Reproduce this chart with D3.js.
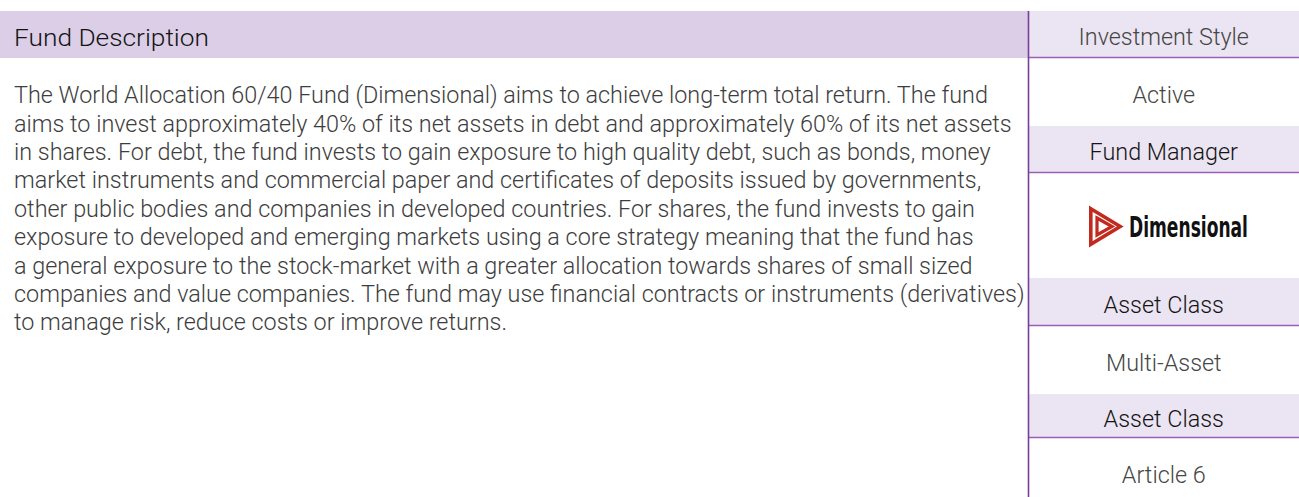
<!DOCTYPE html>
<html><head><meta charset="utf-8">
<script src="https://cdn.jsdelivr.net/npm/d3@7"></script>
<style>html,body{margin:0;padding:0;background:#fff;}svg{display:block;}</style>
</head><body>
<svg id="c" width="1299" height="497"></svg>
<script>
// ---- content ----
const title = "Fund Description";
const bodyLines = [
  "The World Allocation 60/40 Fund (Dimensional) aims to achieve long-term total return. The fund",
  "aims to invest approximately 40% of its net assets in debt and approximately 60% of its net assets",
  "in shares. For debt, the fund invests to gain exposure to high quality debt, such as bonds, money",
  "market instruments and commercial paper and certificates of deposits issued by governments,",
  "other public bodies and companies in developed countries. For shares, the fund invests to gain",
  "exposure to developed and emerging markets using a core strategy meaning that the fund has",
  "a general exposure to the stock-market with a greater allocation towards shares of small sized",
  "companies and value companies. The fund may use financial contracts or instruments (derivatives)",
  "to manage risk, reduce costs or improve returns."
];
const panelKinds  = ["header", "value", "header", "logo", "header", "value", "header", "value"];
const panelTexts  = ["Investment Style", "Active", "Fund Manager", "Dimensional", "Asset Class", "Multi-Asset", "Asset Class", "Article 6"];
const panelBounds = [11, 58, 126, 173, 278, 326, 394, 438, 506];

// ---- layout ----
const W = 1299, H = 497;
const divX = 1028.5;
const svg = d3.select("#c");
const FONT = "Roboto, Inter, 'Noto Sans', sans-serif";
const FS = 23.5;

function squeezeFactor(sel, target) {
  return target / sel.node().getComputedTextLength();
}

// left header band
svg.append("rect").attr("x", 0).attr("y", 11).attr("width", divX).attr("height", 47).attr("fill", "#dbcee6");
const tg = svg.append("g");
const tt = tg.append("text").attr("x", 0).attr("y", 0).attr("font-family", FONT)
  .attr("font-size", FS).attr("font-weight", 300).attr("fill", "#141414").text(title);
tg.attr("transform", `translate(14,45.5) scale(${squeezeFactor(tt, 195)},1)`);

// body text
const lineY = d3.scaleLinear().domain([0, bodyLines.length - 1]).range([103.3, 330.5]);
const g = svg.append("g");
const lines = g.selectAll("text").data(bodyLines).join("text")
  .attr("x", 0).attr("y", (d, i) => lineY(i))
  .attr("font-family", FONT).attr("font-size", FS).attr("font-weight", 300)
  .attr("fill", "#3d3d3d").text(d => d);
const kBody = squeezeFactor(d3.select(lines.nodes()[0]), 974);
g.attr("transform", `translate(14,0) scale(${kBody},1)`);

// right panel
const cx = (divX + W) / 2;
panelTexts.forEach((t, i) => {
  const y0 = panelBounds[i], y1 = Math.min(panelBounds[i + 1], H + 20), kind = panelKinds[i];
  const base = (y0 + y1) / 2 + 10.8;
  if (kind === "header") {
    svg.append("rect").attr("x", divX).attr("y", y0).attr("width", W - divX).attr("height", y1 - y0).attr("fill", "#ebe4f2");
    svg.append("line").attr("x1", divX).attr("x2", W).attr("y1", y1 - 0.5).attr("y2", y1 - 0.5)
      .attr("stroke", "#9a5fb5").attr("stroke-width", 1.6);
  }
  if (kind === "header" || kind === "value") {
    const gg = svg.append("g").attr("transform", `translate(${cx},${base}) scale(${kBody},1)`);
    gg.append("text").attr("x", 0).attr("y", 0).attr("text-anchor", "middle")
      .attr("font-family", FONT).attr("font-size", FS).attr("font-weight", 300)
      .attr("fill", (kind === "header" && i > 0) ? "#141414" : "#464646").text(t);
  } else if (kind === "logo") {
    const lg = svg.append("g");
    const red = "#c22a1f";
    const ix = 1089, iy = 207, iw = 33, ih = 39;
    lg.append("path").attr("d", `M${ix+1.8},${iy+1.8} L${ix+iw-1.8},${iy+ih/2} L${ix+1.8},${iy+ih-1.8} Z`)
      .attr("fill", "none").attr("stroke", red).attr("stroke-width", 3.6);
    lg.append("path").attr("d", `M${ix+8},${iy+11} L${ix+iw-10},${iy+ih/2} L${ix+8},${iy+ih-11} Z`)
      .attr("fill", "none").attr("stroke", red).attr("stroke-width", 3.2);
    const lt = lg.append("text").attr("x", 0).attr("y", 0)
      .attr("font-family", "'Liberation Sans Narrow', 'DejaVu Sans Condensed', 'DejaVu Sans', sans-serif")
      .attr("font-weight", "bold").attr("font-size", 28.5).attr("fill", "#111").text(t);
    const k = squeezeFactor(lt, 119);
    lt.attr("transform", `translate(1129,236.5) scale(${k},1)`);
  }
});

// vertical divider
svg.append("line").attr("x1", divX).attr("x2", divX).attr("y1", 11).attr("y2", H)
  .attr("stroke", "#7a3d9a").attr("stroke-width", 1.6);
</script>
</body></html>
